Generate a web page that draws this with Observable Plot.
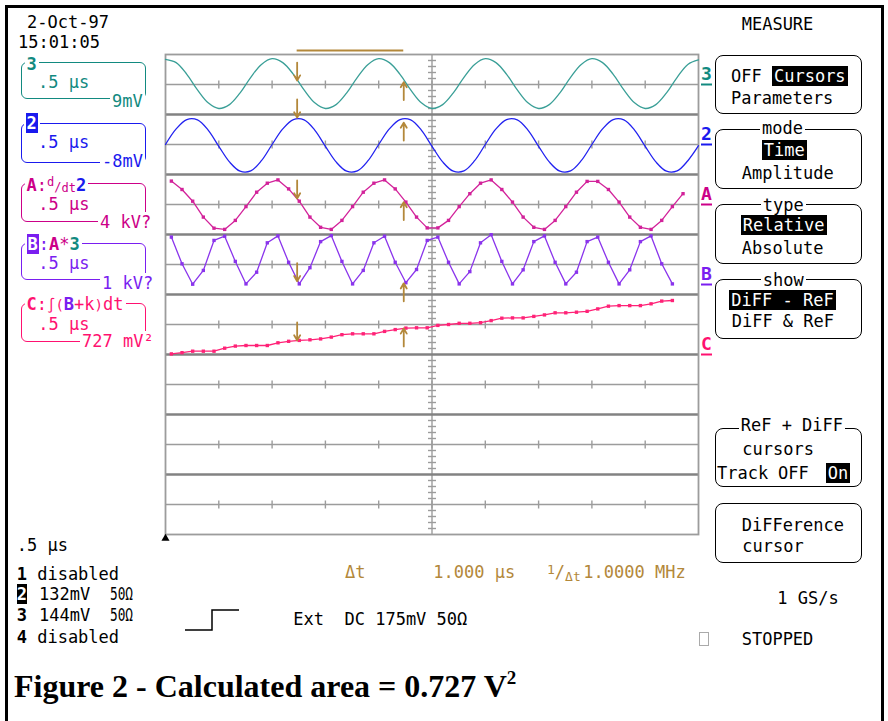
<!DOCTYPE html>
<html>
<head>
<meta charset="utf-8">
<script src="https://cdn.jsdelivr.net/npm/d3@7"></script>
<script src="https://cdn.jsdelivr.net/npm/@observablehq/plot@0.6"></script>
<style>
html,body{margin:0;padding:0;background:#fff;}
#wrap{position:relative;width:888px;height:721px;overflow:hidden;background:#fff;font-family:"DejaVu Sans Mono",monospace;}
#wrap svg{position:absolute;left:0;top:0;}
#frame{position:absolute;left:5px;top:5px;width:873px;height:740px;border:3px solid #000;border-bottom:none;}
.t{position:absolute;white-space:pre;line-height:1;}
.box{position:absolute;border:1.5px solid #000;box-sizing:border-box;}
.inv{background:#000;color:#fff;padding:0 2px;}
.w{background:#fff;padding:0 2px;}
.nar{display:inline-block;transform:scaleX(0.75);transform-origin:0 0;}
.sm{font-size:14px;line-height:0;}
</style>
</head>
<body>
<div id="wrap"><div id="frame"></div></div>
<script>
// ---------------- data ----------------
const timeDomain = [0, 5];                       // µs, 10 divisions of .5 µs
const divisionTimes = [0.5, 1, 1.5, 2, 2.5, 3, 3.5, 4, 4.5];
const centerTime = 2.5;
const stripCenters = [15, 13, 11, 9, 7, 5, 3, 1];
const stripSeparators = [14, 12, 10, 8, 6, 4, 2];
const triggerTime = [0];

// channel traces, sampled every 0.1 µs from t = 0 (divisions from ground)
const smoothStart = 0, smoothStep = 0.1;
const ch3 = [0.84,0.73,0.34,-0.18,-0.61,-0.80,-0.67,-0.28,0.24,0.67,
             0.86,0.73,0.34,-0.18,-0.61,-0.80,-0.67,-0.28,0.24,0.67,
             0.86,0.73,0.34,-0.18,-0.61,-0.80,-0.67,-0.28,0.24,0.67,
             0.86,0.73,0.34,-0.18,-0.61,-0.80,-0.67,-0.28,0.24,0.67,
             0.86,0.73,0.34,-0.18,-0.61,-0.80,-0.67,-0.28,0.24,0.67,
             0.82];
const ch2 = [0.00,0.52,0.83,0.82,0.48,-0.06,-0.58,-0.89,-0.88,-0.54,
             0.00,0.52,0.83,0.82,0.48,-0.06,-0.58,-0.89,-0.88,-0.54,
             0.00,0.52,0.83,0.82,0.48,-0.06,-0.58,-0.89,-0.88,-0.54,
             0.00,0.52,0.83,0.82,0.48,-0.06,-0.58,-0.89,-0.88,-0.54,
             0.00,0.52,0.83,0.82,0.48,-0.06,-0.58,-0.89,-0.88,-0.54,
             -0.04];
// math traces, points every 0.1 µs from t = 0.055
const mathStart = 0.055, mathStep = 0.1;
const traceA = [0.78,
  0.50,0.11,-0.42,-0.79,-0.83,-0.53,-0.07,0.41,0.71,0.82,
  0.52,0.11,-0.42,-0.76,-0.83,-0.53,-0.07,0.41,0.71,0.82,
  0.52,0.08,-0.42,-0.78,-0.78,-0.53,-0.07,0.36,0.71,0.82,
  0.50,0.08,-0.42,-0.76,-0.83,-0.53,-0.07,0.41,0.77,0.77,
  0.50,0.08,-0.42,-0.76,-0.83,-0.53,-0.07,0.36];
const traceB = [1.58,0.69,0.01,0.47,1.47,1.61,0.77,0.02,0.41,1.39,
  1.62,0.74,0.02,0.56,1.43,1.63,0.77,0.02,0.47,1.39,
  1.61,0.74,0.06,0.50,1.47,1.58,0.74,0.02,0.43,1.39,
  1.66,0.77,0.02,0.49,1.43,1.62,0.74,0.02,0.41,1.43,
  1.58,0.74,0.02,0.49,1.43,1.62,0.69,0.02];
const traceC = [0.02,0.06,0.11,0.11,0.11,0.21,0.28,0.30,0.30,0.30,
  0.39,0.44,0.47,0.49,0.52,0.58,0.66,0.69,0.69,0.69,
  0.77,0.83,0.88,0.89,0.89,0.97,1.00,1.04,1.04,1.06,
  1.13,1.21,1.22,1.22,1.27,1.32,1.39,1.39,1.41,1.44,
  1.52,1.61,1.63,1.63,1.63,1.69,1.78,1.80];

const traceNames  = ["3", "2", "A", "B", "C"];
const traceGround = [15, 13, 11, 8.333, 6];
const traceColors = ["#3a9f97", "#2222f0", "#d2229a", "#8a34ec", "#ff2277"];
const labelColors = ["#128a80", "#1a1aee", "#cc0088", "#7a1ef0", "#ff1170"];

// cursors (µs) and trace values at the cursors (divisions from ground)
const refCursor = 1.235, diffCursor = 2.235;
const refValues  = [0.13, 0.90, 0.20, 0.11, 0.47];
const diffValues = [0.08, 0.73, 0.08, 0.04, 0.87];
const arrowLen = 0.6;

// ---------------- tables ----------------
const gridColor = "#9c9c9c", sepColor = "#828282", brown = "#b3883a";
const smoothRows = (vals, g) => vals.map((v, i) => ({t: smoothStart + i * smoothStep, y: g + v}));
const mathRows = (vals, g) => vals.map((v, i) => ({t: mathStart + i * mathStep, y: g + v}));
const row3 = smoothRows(ch3, traceGround[0]);
const row2 = smoothRows(ch2, traceGround[1]);
const rowA = mathRows(traceA, traceGround[2]);
const rowB = mathRows(traceB, traceGround[3]);
const rowC = mathRows(traceC, traceGround[4]);
const midTicks = stripCenters.flatMap(y => divisionTimes.map(t => ({t, y})));
const minorTicks = d3.range(0, 80).filter(i => i % 5 !== 0).map(i => i / 5);
const labels = traceNames.map((n, i) => ({name: n, ground: traceGround[i], color: labelColors[i]}));
const cursorRows = traceGround.flatMap((g, i) => [
  {x: refCursor, y1: g + refValues[i] + arrowLen, y2: g + refValues[i]},
  {x: diffCursor, y1: g + diffValues[i] - arrowLen, y2: g + diffValues[i]}
]);

const hTick = {draw(c) { c.moveTo(-4, 0); c.lineTo(4, 0); }};
const vTick = {draw(c) { c.moveTo(0, -4); c.lineTo(0, 4); }};
const uLine = {draw(c) { c.moveTo(-5.5, 0); c.lineTo(5.5, 0); }};

const mathMarks = (rows, color) => [
  Plot.line(rows, {x: "t", y: "y", stroke: color, strokeWidth: 1.3}),
  Plot.dot(rows, {x: "t", y: "y", symbol: "square", r: 1.9, fill: color})
];

const plot = Plot.plot({
  width: 888, height: 721,
  marginLeft: 165, marginRight: 190, marginTop: 54, marginBottom: 187,
  x: {domain: timeDomain, axis: null},
  y: {domain: [0, 16], axis: null},
  style: {background: "transparent", overflow: "visible"},
  marks: [
    Plot.ruleY(stripCenters, {stroke: gridColor, strokeWidth: 1.3}),
    Plot.ruleX([centerTime], {stroke: gridColor, strokeWidth: 1.4}),
    Plot.dot(midTicks, {x: "t", y: "y", symbol: vTick, stroke: gridColor, fill: "none", strokeWidth: 1.4}),
    Plot.dot(minorTicks, {x: () => centerTime, y: d => d, symbol: hTick, stroke: gridColor, fill: "none", strokeWidth: 1.4}),
    Plot.ruleY(stripSeparators, {stroke: sepColor, strokeWidth: 2.4}),
    Plot.frame({stroke: gridColor, strokeWidth: 1.8}),
    Plot.line(row3, {x: "t", y: "y", stroke: traceColors[0], strokeWidth: 1.3, curve: "catmull-rom"}),
    Plot.line(row2, {x: "t", y: "y", stroke: traceColors[1], strokeWidth: 1.3, curve: "catmull-rom"}),
    ...mathMarks(rowA, traceColors[2]),
    ...mathMarks(rowB, traceColors[3]),
    ...mathMarks(rowC, traceColors[4]),
    Plot.arrow(cursorRows, {x1: "x", x2: "x", y1: "y1", y2: "y2", stroke: brown, strokeWidth: 1.8, headLength: 7}),
    Plot.ruleY([16], {x1: () => refCursor, x2: () => diffCursor, dy: -4, stroke: brown, strokeWidth: 1.8}),
    Plot.text(labels, {y: "ground", text: "name", fill: "color", frameAnchor: "right", dx: 8, dy: -5,
      lineAnchor: "bottom", textAnchor: "middle", fontSize: 18, fontWeight: "bold", fontFamily: "DejaVu Sans Mono"}),
    Plot.dot(labels, {y: "ground", frameAnchor: "right", dx: 8, symbol: uLine, stroke: "color", fill: "none", strokeWidth: 2}),
    Plot.dot(triggerTime, {x: d => d, frameAnchor: "bottom", symbol: "triangle", fill: "#000", r: 3, dy: 4})
  ]
});
const wrap = document.getElementById("wrap");
wrap.insertBefore(plot, wrap.firstChild);

// ---------------- scope texts ----------------
function put(html, x, base, o = {}) {
  const fs = o.size || 17;
  const el = document.createElement("div");
  el.className = "t";
  el.style.left = x + "px";
  el.style.top = (base - fs * (o.serif ? 0.8375 : 0.846)) + "px";
  el.style.fontSize = fs + "px";
  el.style.color = o.color || "#000";
  if (o.serif) el.style.fontFamily = '"Liberation Serif","Times New Roman",serif';
  if (o.bold) el.style.fontWeight = "bold";
  el.innerHTML = html;
  wrap.appendChild(el);
}
function box(x1, y1, x2, y2, color, radius) {
  const el = document.createElement("div");
  el.className = "box";
  Object.assign(el.style, {left: x1 + "px", top: y1 + "px", width: (x2 - x1) + "px", height: (y2 - y1) + "px",
    borderColor: color, borderRadius: radius + "px"});
  wrap.appendChild(el);
}
const [T3, T2, TA, TB, TC] = labelColors;
const b = s => `<b>${s}</b>`;
const col = (c, s) => `<span style="color:${c}">${s}</span>`;

put("2-Oct-97", 27, 28);
put("15:01:05", 18, 48);

// channel boxes
box(21, 62, 146, 99, T3, 6);
put(`<span class="w">${b("3")}</span>`, 24.5, 70.5, {color: T3});
put(".5 µs", 38, 88.3, {color: T3});
put(`<span class="w">9mV</span>`, 110, 107, {color: T3});

box(21, 122.7, 146, 162.7, T2, 6);
put(`<span class="w"><span style="background:${T2};color:#fff;font-weight:bold;padding:0 1px">2</span></span>`, 23.5, 129, {color: T2});
put(".5 µs", 38, 148, {color: T2});
put(`<span class="w">-8mV</span>`, 100, 167.3, {color: T2});

box(21, 183.3, 146, 221.7, TA, 6);
put(`<span class="w">${b("A")}:<span style="font-size:12px;line-height:0;vertical-align:5px">d</span><span style="font-size:12px;line-height:0">/</span><span style="font-size:12px;line-height:0;vertical-align:-1px">dt</span>${col(T2, b("2"))}</span>`, 24.5, 191, {color: TA});
put(".5 µs", 38.3, 210, {color: TA});
put(`<span class="w">4 kV?</span>`, 98, 228.3, {color: TA});

box(21, 242.7, 146, 280, TB, 6);
put(`<span class="w"><span style="background:${TB};color:#fff;font-weight:bold;padding:0 1px">B</span>:${col(TA, b("A") + "*")}${col(T3, b("3"))}</span>`, 24.5, 250.7, {color: TB});
put(".5 µs", 38.3, 269.3, {color: TB});
put(`<span class="w">1 kV?</span>`, 100, 289, {color: TB});

box(21, 303.3, 146, 341.7, TC, 6);
put(`<span class="w">${b("C")}:<span class="sm">∫(</span>${col(TB, b("B"))}+k<span class="sm">)</span>dt</span>`, 24.5, 310.3, {color: TC});
put(".5 µs", 38.3, 330, {color: TC});
put(`<span class="w">727 mV²</span>`, 80, 347.4, {color: TC});

// right menu
put("MEASURE", 741.7, 30);
box(715, 55, 862, 114, "#000", 8);
put(`OFF <span class="inv">Cursors</span>`, 731, 82);
put("Parameters", 731, 104);
box(715, 129.3, 862, 189.3, "#000", 8);
put(`<span class="w">mode</span>`, 760, 134);
put(`<span class="inv">Time</span>`, 761.7, 156);
put("Amplitude", 741.7, 179);
box(715, 204, 862, 264, "#000", 8);
put(`<span class="w">type</span>`, 760.7, 211.5);
put(`<span class="inv">Relative</span>`, 740.7, 231);
put("Absolute", 741.7, 254);
box(715, 279.3, 862, 339.3, "#000", 8);
put(`<span class="w">show</span>`, 760.7, 286.7);
put(`<span class="inv">DiFF - ReF</span>`, 729.3, 306);
put("DiFF &amp; ReF", 731.7, 327);
box(715, 428.3, 862, 487.3, "#000", 8);
put(`<span class="w">ReF + DiFF</span>`, 738.7, 431.7);
put("cursors", 742.3, 455);
put("Track", 717, 479);
put("OFF", 778, 479);
put(`<span class="inv">On</span>`, 825.7, 479);
box(715, 503.3, 862, 562.7, "#000", 8);
put("DiFFerence", 741.7, 531.7);
put("cursor", 742.3, 552.7);
put("1 GS/s", 777.3, 604);
const sq = document.createElement("div");
Object.assign(sq.style, {position: "absolute", left: "699px", top: "632px", width: "8px", height: "12px", border: "1px solid #aaa"});
wrap.appendChild(sq);
put("STOPPED", 741.7, 645);

// bottom status
put(".5 µs", 16.7, 551.7);
put(`${b("1")} disabled`, 16.7, 580);
put(`<span style="background:#000;color:#fff;font-weight:bold">2</span>`, 16.7, 600.7);
put("132mV", 39, 600.7);
put(`<span class="nar">50Ω</span>`, 110, 600.7);
put(b("3"), 16.7, 621.7);
put("144mV", 39, 621.7);
put(`<span class="nar">50Ω</span>`, 110, 621.7);
put(`${b("4")} disabled`, 16.7, 643.3);

put("Δt", 345, 578.3, {color: brown});
put("1.000 µs", 433.3, 578.3, {color: brown});
put(`<span style="font-size:13px;line-height:0;vertical-align:4px">1</span><span style="line-height:0">/</span><span style="font-size:13px;line-height:0;vertical-align:-3px">Δt</span>`, 547, 578.3, {color: brown});
put("1.0000 MHz", 583.3, 578.3, {color: brown});

const trig = document.createElementNS("http://www.w3.org/2000/svg", "svg");
trig.setAttribute("width", 60); trig.setAttribute("height", 26);
trig.style.left = "184px"; trig.style.top = "608px";
trig.innerHTML = '<polyline points="1,22 28,22 28,2 55,2" fill="none" stroke="#000" stroke-width="1.5"/>';
wrap.appendChild(trig);
put("Ext  DC 175mV 50Ω", 293.3, 625);

put(`Figure 2 - Calculated area = 0.727 V<span style="font-size:19px;line-height:0;vertical-align:13px">2</span>`, 14, 697, {serif: true, bold: true, size: 32});
</script>
</body>
</html>
